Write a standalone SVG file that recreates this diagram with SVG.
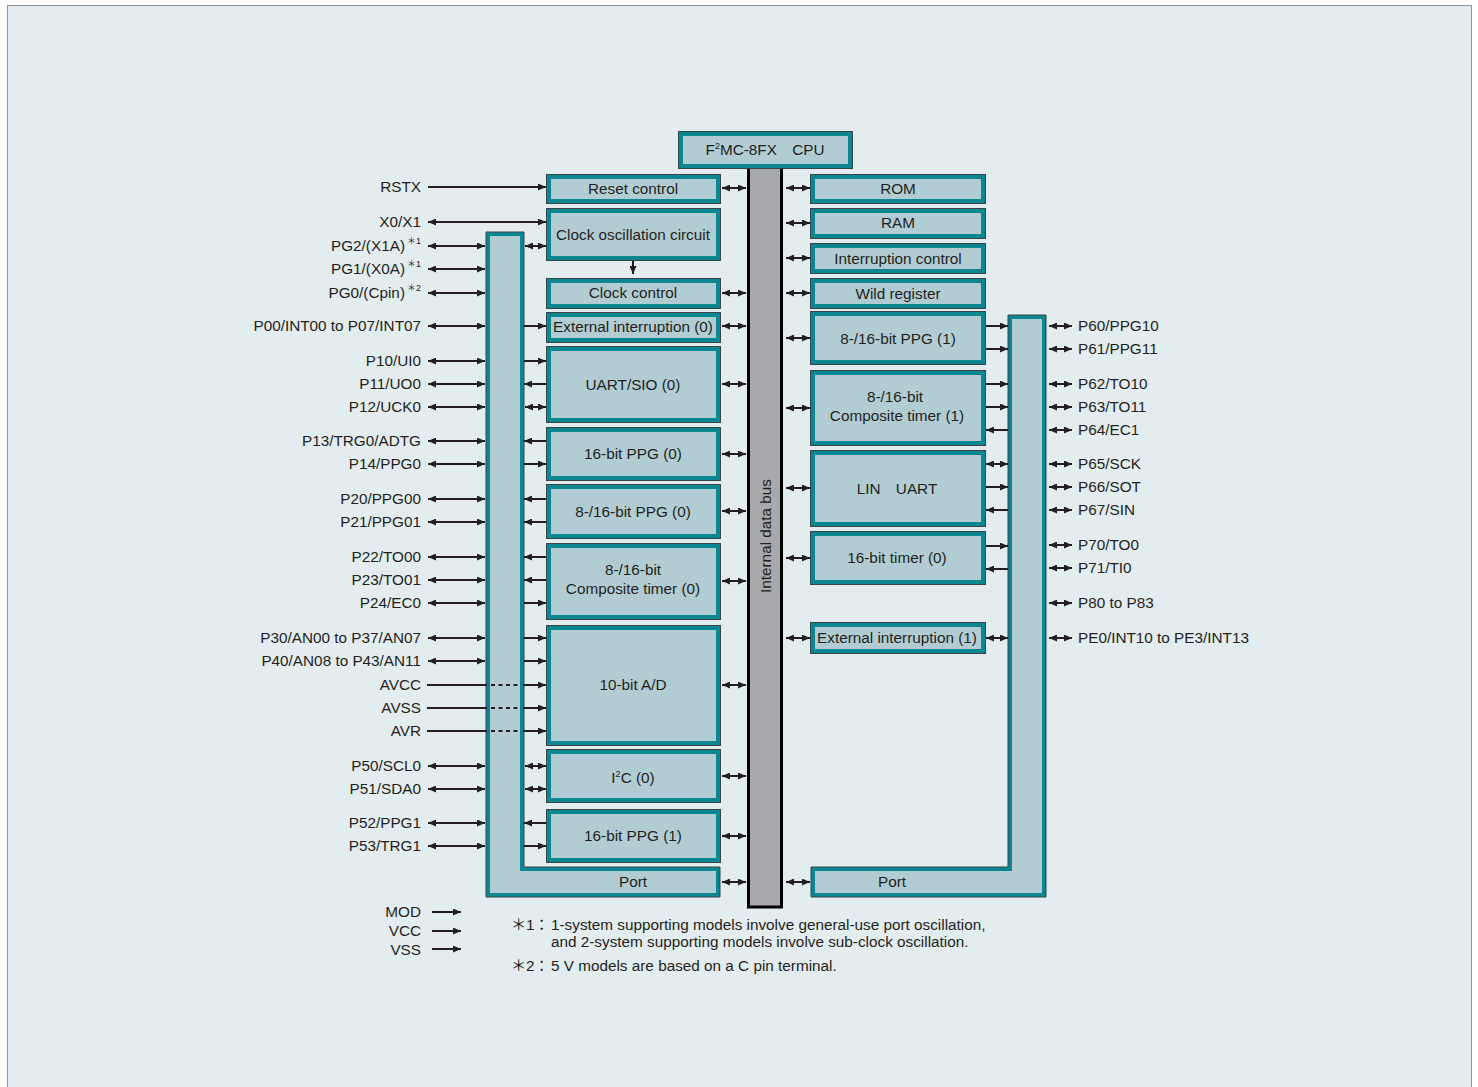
<svg xmlns="http://www.w3.org/2000/svg" width="1478" height="1087" viewBox="0 0 1478 1087">
<style>
.o{fill:#0a8791;stroke:#3b4446;stroke-width:1}
.i{fill:#b1cdd3}
.t{font-family:"Liberation Sans",Arial,"Noto Sans CJK JP",sans-serif;font-size:15.3px;fill:#231f20}
.c{text-anchor:middle}
.r{text-anchor:end}
.ln line,.ln path{stroke:#231f20;stroke-width:2;fill:none}
.ln .d{marker-start:url(#h);marker-end:url(#h)}
.ln .e{marker-end:url(#h)}
.ln .dash{stroke-dasharray:4 3.5}
.sup{font-size:9px}
</style>
<defs>
<marker id="h" viewBox="0 0 8 7" refX="8" refY="3.5" markerWidth="8" markerHeight="7" markerUnits="userSpaceOnUse" orient="auto-start-reverse"><path d="M0,0 L8,3.5 L0,7 Z" fill="#231f20"/></marker>
</defs>
<rect x="0" y="0" width="1478" height="1087" fill="#ffffff"/>
<rect x="7.5" y="5.5" width="1464" height="1090" fill="#e3ecef" stroke="#8d9799" stroke-width="1"/>

<g id="bus">
<rect x="748.5" y="167" width="33" height="740" fill="#a7a9ac" stroke="#000" stroke-width="3"/>
<text class="t c" transform="translate(771,536) rotate(-90)">Internal data bus</text>
</g>
<g id="cpu">
<rect class="o" x="678.5" y="131.5" width="174" height="37"/><rect class="i" x="683" y="136" width="165" height="28"/>
<text class="t c" x="765" y="155">F<tspan class="sup" dy="-6">2</tspan><tspan dy="6">MC-8FX　CPU</tspan></text>
</g>

<g id="port-left">
<path class="o" d="M486,232 H524 V867 H720 V897 H486 Z"/>
<path class="i" d="M490,236 H520 V871 H716 V893 H490 Z"/>
<text class="t c" x="633" y="887">Port</text>
</g>
<g id="port-right">
<path class="o" d="M1008,315 H1046 V897 H811 V867 H1008 Z"/>
<path class="i" d="M1012,319 H1042 V893 H815 V871 H1012 Z"/>
<text class="t c" x="892" y="887">Port</text>
</g>

<g id="reset"><rect class="o" x="546.5" y="174.5" width="174" height="29"/><rect class="i" x="551" y="179" width="165" height="20"/><text class="t c" x="633" y="194">Reset control</text></g>
<g id="clkosc"><rect class="o" x="546.5" y="208.5" width="174" height="52"/><rect class="i" x="551" y="213" width="165" height="43"/><text class="t c" x="633" y="240">Clock oscillation circuit</text></g>
<g id="clkctl"><rect class="o" x="546.5" y="278.5" width="174" height="30"/><rect class="i" x="551" y="283" width="165" height="21"/><text class="t c" x="633" y="298">Clock control</text></g>
<g id="extint0"><rect class="o" x="546.5" y="312.5" width="174" height="30"/><rect class="i" x="551" y="317" width="165" height="21"/><text class="t c" x="633" y="332">External interruption (0)</text></g>
<g id="uart0"><rect class="o" x="546.5" y="346.5" width="174" height="76"/><rect class="i" x="551" y="351" width="165" height="67"/><text class="t c" x="633" y="390">UART/SIO (0)</text></g>
<g id="ppg16-0"><rect class="o" x="546.5" y="427.5" width="174" height="53"/><rect class="i" x="551" y="432" width="165" height="44"/><text class="t c" x="633" y="459">16-bit PPG (0)</text></g>
<g id="ppg816-0"><rect class="o" x="546.5" y="484.5" width="174" height="54"/><rect class="i" x="551" y="489" width="165" height="45"/><text class="t c" x="633" y="517">8-/16-bit PPG (0)</text></g>
<g id="comp0"><rect class="o" x="546.5" y="543.5" width="174" height="76"/><rect class="i" x="551" y="548" width="165" height="67"/><text class="t c" x="633" y="575">8-/16-bit</text><text class="t c" x="633" y="594">Composite timer (0)</text></g>
<g id="ad"><rect class="o" x="546.5" y="625.5" width="174" height="120"/><rect class="i" x="551" y="630" width="165" height="111"/><text class="t c" x="633" y="690">10-bit A/D</text></g>
<g id="i2c"><rect class="o" x="546.5" y="749.5" width="174" height="53"/><rect class="i" x="551" y="754" width="165" height="44"/><text class="t c" x="633" y="783">I<tspan class="sup" dy="-6">2</tspan><tspan dy="6">C (0)</tspan></text></g>
<g id="ppg16-1"><rect class="o" x="546.5" y="809.5" width="174" height="53"/><rect class="i" x="551" y="814" width="165" height="44"/><text class="t c" x="633" y="841">16-bit PPG (1)</text></g>

<g id="rom"><rect class="o" x="810.5" y="174.5" width="175" height="29"/><rect class="i" x="815" y="179" width="166" height="20"/><text class="t c" x="898" y="194">ROM</text></g>
<g id="ram"><rect class="o" x="810.5" y="208.5" width="175" height="30"/><rect class="i" x="815" y="213" width="166" height="21"/><text class="t c" x="898" y="228">RAM</text></g>
<g id="intctl"><rect class="o" x="810.5" y="243.5" width="175" height="30"/><rect class="i" x="815" y="248" width="166" height="21"/><text class="t c" x="898" y="264">Interruption control</text></g>
<g id="wild"><rect class="o" x="810.5" y="278.5" width="175" height="30"/><rect class="i" x="815" y="283" width="166" height="21"/><text class="t c" x="898" y="299">Wild register</text></g>
<g id="ppg816-1"><rect class="o" x="810.5" y="311.5" width="175" height="53"/><rect class="i" x="815" y="316" width="166" height="44"/><text class="t c" x="898" y="344">8-/16-bit PPG (1)</text></g>
<g id="comp1"><rect class="o" x="810.5" y="370.5" width="175" height="75"/><rect class="i" x="815" y="375" width="166" height="66"/><text class="t c" x="895" y="402">8-/16-bit</text><text class="t c" x="897" y="421">Composite timer (1)</text></g>
<g id="lin"><rect class="o" x="810.5" y="450.5" width="175" height="76"/><rect class="i" x="815" y="455" width="166" height="67"/><text class="t c" x="897" y="494">LIN　UART</text></g>
<g id="timer0"><rect class="o" x="810.5" y="531.5" width="175" height="53"/><rect class="i" x="815" y="536" width="166" height="44"/><text class="t c" x="897" y="563">16-bit timer (0)</text></g>
<g id="extint1"><rect class="o" x="810.5" y="622.5" width="175" height="31"/><rect class="i" x="815" y="627" width="166" height="22"/><text class="t c" x="897" y="643">External interruption (1)</text></g>

<g id="connectors" class="ln">
<!-- bus left -->
<line class="d" x1="722" y1="188" x2="746" y2="188"/>
<line class="d" x1="722" y1="293" x2="746" y2="293"/>
<line class="d" x1="722" y1="326" x2="746" y2="326"/>
<line class="d" x1="722" y1="384" x2="746" y2="384"/>
<line class="d" x1="722" y1="454" x2="746" y2="454"/>
<line class="d" x1="722" y1="511" x2="746" y2="511"/>
<line class="d" x1="722" y1="581" x2="746" y2="581"/>
<line class="d" x1="722" y1="685" x2="746" y2="685"/>
<line class="d" x1="722" y1="776" x2="746" y2="776"/>
<line class="d" x1="722" y1="836" x2="746" y2="836"/>
<line class="d" x1="722" y1="882" x2="746" y2="882"/>
<!-- bus right -->
<line class="d" x1="786" y1="188" x2="810" y2="188"/>
<line class="d" x1="786" y1="223" x2="810" y2="223"/>
<line class="d" x1="786" y1="258" x2="810" y2="258"/>
<line class="d" x1="786" y1="293" x2="810" y2="293"/>
<line class="d" x1="786" y1="338" x2="810" y2="338"/>
<line class="d" x1="786" y1="408" x2="810" y2="408"/>
<line class="d" x1="786" y1="488" x2="810" y2="488"/>
<line class="d" x1="786" y1="558" x2="810" y2="558"/>
<line class="d" x1="786" y1="638" x2="810" y2="638"/>
<line class="d" x1="786" y1="882" x2="810" y2="882"/>
<!-- clock -->
<line class="e" x1="633" y1="261" x2="633" y2="274"/>
<!-- left pins -->
<line class="e" x1="428" y1="187" x2="546" y2="187"/>
<line class="d" x1="428" y1="222" x2="546" y2="222"/>
<line class="d" x1="428" y1="246" x2="485" y2="246"/>
<line class="d" x1="428" y1="269" x2="485" y2="269"/>
<line class="d" x1="428" y1="293" x2="485" y2="293"/>
<line class="d" x1="428" y1="326" x2="485" y2="326"/>
<line class="d" x1="428" y1="361" x2="485" y2="361"/>
<line class="d" x1="428" y1="384" x2="485" y2="384"/>
<line class="d" x1="428" y1="407" x2="485" y2="407"/>
<line class="d" x1="428" y1="441" x2="485" y2="441"/>
<line class="d" x1="428" y1="464" x2="485" y2="464"/>
<line class="d" x1="428" y1="499" x2="485" y2="499"/>
<line class="d" x1="428" y1="522" x2="485" y2="522"/>
<line class="d" x1="428" y1="557" x2="485" y2="557"/>
<line class="d" x1="428" y1="580" x2="485" y2="580"/>
<line class="d" x1="428" y1="603" x2="485" y2="603"/>
<line class="d" x1="428" y1="638" x2="485" y2="638"/>
<line class="d" x1="428" y1="661" x2="485" y2="661"/>
<line class="d" x1="428" y1="766" x2="485" y2="766"/>
<line class="d" x1="428" y1="789" x2="485" y2="789"/>
<line class="d" x1="428" y1="823" x2="485" y2="823"/>
<line class="d" x1="428" y1="846" x2="485" y2="846"/>
<line x1="427" y1="685" x2="487" y2="685"/>
<line x1="427" y1="708" x2="487" y2="708"/>
<line x1="427" y1="731" x2="487" y2="731"/>
<line class="dash" x1="491" y1="685" x2="520" y2="685"/>
<line class="dash" x1="491" y1="708" x2="520" y2="708"/>
<line class="dash" x1="491" y1="731" x2="520" y2="731"/>
<line class="e" x1="523" y1="685" x2="546" y2="685"/>
<line class="e" x1="523" y1="708" x2="546" y2="708"/>
<line class="e" x1="523" y1="731" x2="546" y2="731"/>
<!-- left inner -->
<line class="d" x1="525" y1="246" x2="546" y2="246"/>
<line class="d" x1="525" y1="407" x2="546" y2="407"/>
<line class="d" x1="525" y1="766" x2="546" y2="766"/>
<line class="d" x1="525" y1="789" x2="546" y2="789"/>
<line class="e" x1="524" y1="326" x2="546" y2="326"/>
<line class="e" x1="524" y1="361" x2="546" y2="361"/>
<line class="e" x1="524" y1="464" x2="546" y2="464"/>
<line class="e" x1="524" y1="603" x2="546" y2="603"/>
<line class="e" x1="524" y1="638" x2="546" y2="638"/>
<line class="e" x1="524" y1="661" x2="546" y2="661"/>
<line class="e" x1="524" y1="846" x2="546" y2="846"/>
<line class="e" x1="546" y1="384" x2="524" y2="384"/>
<line class="e" x1="546" y1="441" x2="524" y2="441"/>
<line class="e" x1="546" y1="499" x2="524" y2="499"/>
<line class="e" x1="546" y1="522" x2="524" y2="522"/>
<line class="e" x1="546" y1="557" x2="524" y2="557"/>
<line class="e" x1="546" y1="580" x2="524" y2="580"/>
<line class="e" x1="546" y1="823" x2="524" y2="823"/>
<!-- right inner -->
<line class="e" x1="986" y1="326" x2="1008" y2="326"/>
<line class="e" x1="986" y1="349" x2="1008" y2="349"/>
<line class="e" x1="986" y1="384" x2="1008" y2="384"/>
<line class="e" x1="986" y1="407" x2="1008" y2="407"/>
<line class="e" x1="986" y1="487" x2="1008" y2="487"/>
<line class="e" x1="986" y1="546" x2="1008" y2="546"/>
<line class="e" x1="1008" y1="430" x2="986" y2="430"/>
<line class="e" x1="1008" y1="510" x2="986" y2="510"/>
<line class="e" x1="1008" y1="569" x2="986" y2="569"/>
<line class="d" x1="986" y1="464" x2="1008" y2="464"/>
<line class="d" x1="986" y1="638" x2="1008" y2="638"/>
<!-- right pins -->
<line class="d" x1="1049" y1="326" x2="1072" y2="326"/>
<line class="d" x1="1049" y1="349" x2="1072" y2="349"/>
<line class="d" x1="1049" y1="384" x2="1072" y2="384"/>
<line class="d" x1="1049" y1="407" x2="1072" y2="407"/>
<line class="d" x1="1049" y1="430" x2="1072" y2="430"/>
<line class="d" x1="1049" y1="464" x2="1072" y2="464"/>
<line class="d" x1="1049" y1="487" x2="1072" y2="487"/>
<line class="d" x1="1049" y1="510" x2="1072" y2="510"/>
<line class="d" x1="1049" y1="545" x2="1072" y2="545"/>
<line class="d" x1="1049" y1="568" x2="1072" y2="568"/>
<line class="d" x1="1049" y1="603" x2="1072" y2="603"/>
<line class="d" x1="1049" y1="638" x2="1072" y2="638"/>
<!-- power -->
<line class="e" x1="432" y1="912" x2="461" y2="912"/>
<line class="e" x1="432" y1="931" x2="461" y2="931"/>
<line class="e" x1="432" y1="949" x2="461" y2="949"/>
</g>

<g id="pins-left" class="t r">
<text x="421" y="192">RSTX</text>
<text x="421" y="227">X0/X1</text>
<text x="421" y="251">PG2/(X1A)<tspan class="sup" dx="2" dy="-7">＊1</tspan></text>
<text x="421" y="274">PG1/(X0A)<tspan class="sup" dx="2" dy="-7">＊1</tspan></text>
<text x="421" y="298">PG0/(Cpin)<tspan class="sup" dx="2" dy="-7">＊2</tspan></text>
<text x="421" y="331">P00/INT00 to P07/INT07</text>
<text x="421" y="366">P10/UI0</text>
<text x="421" y="389">P11/UO0</text>
<text x="421" y="412">P12/UCK0</text>
<text x="421" y="446">P13/TRG0/ADTG</text>
<text x="421" y="469">P14/PPG0</text>
<text x="421" y="504">P20/PPG00</text>
<text x="421" y="527">P21/PPG01</text>
<text x="421" y="562">P22/TO00</text>
<text x="421" y="585">P23/TO01</text>
<text x="421" y="608">P24/EC0</text>
<text x="421" y="643">P30/AN00 to P37/AN07</text>
<text x="421" y="666">P40/AN08 to P43/AN11</text>
<text x="421" y="690">AVCC</text>
<text x="421" y="713">AVSS</text>
<text x="421" y="736">AVR</text>
<text x="421" y="771">P50/SCL0</text>
<text x="421" y="794">P51/SDA0</text>
<text x="421" y="828">P52/PPG1</text>
<text x="421" y="851">P53/TRG1</text>
<text x="421" y="917">MOD</text>
<text x="421" y="936">VCC</text>
<text x="421" y="955">VSS</text>
</g>

<g id="pins-right" class="t">
<text x="1078" y="331">P60/PPG10</text>
<text x="1078" y="354">P61/PPG11</text>
<text x="1078" y="389">P62/TO10</text>
<text x="1078" y="412">P63/TO11</text>
<text x="1078" y="435">P64/EC1</text>
<text x="1078" y="469">P65/SCK</text>
<text x="1078" y="492">P66/SOT</text>
<text x="1078" y="515">P67/SIN</text>
<text x="1078" y="550">P70/TO0</text>
<text x="1078" y="573">P71/TI0</text>
<text x="1078" y="608">P80 to P83</text>
<text x="1078" y="643">PE0/INT10 to PE3/INT13</text>
</g>

<g id="notes" class="t">
<text y="930"><tspan x="511">＊</tspan><tspan x="526">1</tspan><tspan x="534">：</tspan><tspan x="551">1-system supporting models involve general-use port oscillation,</tspan></text>
<text x="551" y="947">and 2-system supporting models involve sub-clock oscillation.</text>
<text y="971"><tspan x="511">＊</tspan><tspan x="526">2</tspan><tspan x="534">：</tspan><tspan x="551">5 V models are based on a C pin terminal.</tspan></text>
</g>
</svg>
